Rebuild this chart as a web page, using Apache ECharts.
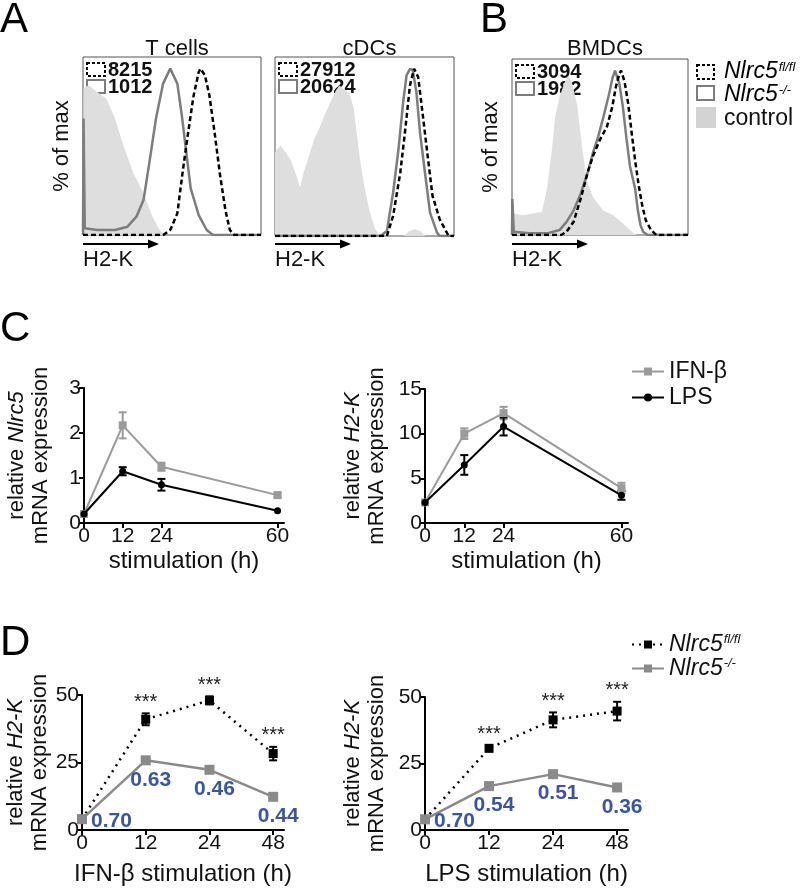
<!DOCTYPE html>
<html>
<head>
<meta charset="utf-8">
<style>html,body{margin:0;background:#fff}#chart{width:802px;height:888px}</style>
</head>
<body>
<div id="chart"></div>
<script src="https://cdn.jsdelivr.net/npm/echarts@6/dist/echarts.min.js"></script>
<script>
var FONT = 'Arial, "Liberation Sans", Helvetica, sans-serif';

// ---- A/B: flow histograms, [H2-K position in % of axis, % of max]
var tControl = [[0, 0], [0.3, 88], [3, 90], [8, 86], [13, 82], [18, 70], [22, 56], [28, 38], [34, 25], [39, 11], [43, 3], [46, 0], [100, 0]];
var tKo = [[0, 0], [0.3, 70], [1, 4], [8, 3], [18, 3], [25, 5], [30, 11], [34, 21], [37.5, 45], [41, 70], [45, 91], [49, 100], [53, 91], [55.5, 72], [58, 50], [60.5, 28], [65, 12], [69.5, 3], [73, 0], [100, 0]];
var tFl = [[0, 0], [45, 0], [49, 3], [53, 13], [56, 38], [59, 61], [62, 83], [65, 98], [66, 100], [68.5, 96], [71, 84], [74, 61], [77, 36], [80, 15], [82.5, 3], [85, 0], [100, 0]];

var cdcControl = [[0, 50], [3, 54], [6, 50], [9, 45], [12, 36], [14, 29], [16, 38], [19, 48], [22, 58], [25, 65], [28, 73], [31, 80], [34, 87], [36, 90], [38, 88], [40, 87], [42, 84], [44, 76], [46, 58], [48, 42], [50, 29], [53, 14], [56, 4], [58, 1], [60, 0], [72, 0], [75, 3], [78, 4], [81, 3], [84, 0], [100, 0]];
var cdcKo = [[0, 0], [59, 0], [62.5, 3], [66, 26], [69, 52], [71.7, 81], [73.5, 96], [75.5, 100], [77, 99], [79, 86], [81, 62], [84, 36], [86.6, 14], [90.5, 2], [92, 0], [100, 0]];
var cdcFl = [[0, 0], [62.5, 0], [66, 12], [70, 38], [72.6, 62], [75.4, 90], [77.7, 100], [80, 95], [82.7, 71], [85.5, 46], [88, 24], [92, 10], [96, 2], [97, 0], [100, 0]];

var bmControl = [[0, 0], [0.3, 23], [1, 13], [6, 12], [12, 13], [17, 14], [20, 29], [22.7, 52], [24.6, 72], [27, 84], [30, 93], [32, 97], [34, 93], [37, 79], [40, 52], [42.6, 33], [46, 23], [51.7, 15], [57.5, 12], [63, 7], [69, 1], [71, 0], [100, 0]];
var bmKo = [[0, 0], [0.2, 22], [1, 2], [10, 1], [20, 1], [27, 3], [31, 8], [35, 15], [39, 25], [43, 38], [46, 50], [49, 60], [52, 72], [55, 85], [57, 95], [58.5, 100], [61, 92], [63, 78], [65, 59], [67, 42], [70, 28], [71.5, 15], [73, 6], [74.5, 2], [77, 0], [100, 0]];
var bmFl = [[0, 0], [28, 0], [31, 2], [35, 8], [39, 22], [43, 38], [46, 48], [50, 58], [54, 66], [57, 78], [59, 90], [61, 98], [62, 100], [64, 93], [66, 80], [68, 62], [70, 45], [72, 30], [74, 18], [76, 9], [79, 3], [82, 0], [100, 0]];

var tMfi = ['8215', '1012'];
var cdcMfi = ['27912', '20624'];
var bmMfi = ['3094', '1982'];

// ---- C: time course, mean and error
var cHours = [0, 12, 24, 60];
var cNlrc5Ifn = [0.2, 2.17, 1.25, 0.62];
var cNlrc5IfnErr = [0, 0.29, 0.09, 0.04];
var cNlrc5Lps = [0.2, 1.15, 0.85, 0.27];
var cNlrc5LpsErr = [0, 0.09, 0.13, 0];
var cH2kIfn = [2.3, 10.0, 12.3, 3.9];
var cH2kIfnErr = [0, 0.6, 0.7, 0.6];
var cH2kLps = [2.3, 6.5, 10.8, 3.1];
var cH2kLpsErr = [0, 1.1, 1.0, 0.5];

// ---- D: H2-K in fl/fl vs -/-
var dHours = ['0', '12', '24', '48'];
var dIfnFl = [4, 41, 48, 28.3];
var dIfnFlErr = [0, 2.2, 1.5, 2.5];
var dIfnKo = [4, 25.8, 22.3, 12.3];
var dIfnKoErr = [0, 1, 1, 0.7];
var dLpsFl = [4, 30.7, 41.4, 44.7];
var dLpsFlErr = [0, 1, 2.8, 3.5];
var dLpsKo = [4, 16.5, 21, 16];
var dLpsKoErr = [0, 1, 1, 1];
var dIfnRatio = ['0.70', '0.63', '0.46', '0.44'];
var dLpsRatio = ['0.70', '0.54', '0.51', '0.36'];
var dSig = ['', '***', '***', '***'];

var GRAY_C = '#9b9b9b';
var GRAY_D = '#8a8a8a';
var BLUE = '#3a56a2';

var chart = echarts.init(document.getElementById('chart'));

var histBoxes = [
  { left: 83, top: 57, width: 178, height: 178, title: 'T cells', mfi: tMfi, yName: '% of max', d: [tControl, tKo, tFl] },
  { left: 275, top: 57, width: 179, height: 179, title: 'cDCs', mfi: cdcMfi, yName: '', d: [cdcControl, cdcKo, cdcFl] },
  { left: 512, top: 59, width: 176, height: 176, title: 'BMDCs', mfi: bmMfi, yName: '% of max', d: [bmControl, bmKo, bmFl] }
];

var grids = [], xAxes = [], yAxes = [], series = [], graphics = [], titles = [];

histBoxes.forEach(function (b, i) {
  grids.push({ left: b.left, top: b.top, width: b.width, height: b.height, show: true, borderColor: '#555', borderWidth: 1, backgroundColor: 'transparent' });
  xAxes.push({ gridIndex: i, type: 'value', min: 0, max: 100, show: false });
  yAxes.push({
    gridIndex: i, type: 'value', min: 0, max: 107,
    axisLine: { show: false }, axisTick: { show: false }, axisLabel: { show: false }, splitLine: { show: false },
    name: b.yName, nameLocation: 'middle', nameRotate: 90, nameGap: 10,
    nameTextStyle: { fontSize: 22, fontFamily: FONT, color: '#111' }
  });
  series.push({ type: 'line', name: 'control ' + i, xAxisIndex: i, yAxisIndex: i, data: b.d[0], symbol: 'none', lineStyle: { width: 0 }, areaStyle: { color: '#dedede', opacity: 1 }, z: 1 });
  series.push({ type: 'line', name: 'ko ' + i, xAxisIndex: i, yAxisIndex: i, data: b.d[1], symbol: 'none', lineStyle: { width: 2.5, color: '#7d7d7d' }, z: 2 });
  series.push({ type: 'line', name: 'fl ' + i, xAxisIndex: i, yAxisIndex: i, data: b.d[2], symbol: 'none', lineStyle: { width: 2.5, color: '#000', type: [5, 3] }, z: 3 });

  titles.push({ text: b.title, left: b.left + b.width / 2, top: 33, textAlign: 'center', textStyle: { fontSize: 22, fontWeight: 'normal', fontFamily: FONT, color: '#111' } });

  // MFI mini legend inside the box
  graphics.push({ type: 'rect', shape: { x: b.left + 4, y: b.top + 6, width: 18, height: 13 }, style: { fill: 'none', stroke: '#000', lineWidth: 2, lineDash: [3, 2] } });
  graphics.push({ type: 'rect', shape: { x: b.left + 4, y: b.top + 23, width: 18, height: 13 }, style: { fill: 'none', stroke: '#7d7d7d', lineWidth: 2 } });
  graphics.push({ type: 'text', x: b.left + 25, y: b.top + 13, style: { text: b.mfi[0], font: 'bold 20px ' + FONT, fill: '#111', textVerticalAlign: 'middle' } });
  graphics.push({ type: 'text', x: b.left + 25, y: b.top + 30, style: { text: b.mfi[1], font: 'bold 20px ' + FONT, fill: '#111', textVerticalAlign: 'middle' } });

  // H2-K arrow
  var ay = 244, ax0 = b.left, ax1 = b.left + 76;
  graphics.push({ type: 'line', shape: { x1: ax0, y1: ay, x2: ax1 - 6, y2: ay }, style: { stroke: '#000', lineWidth: 2 } });
  graphics.push({ type: 'polygon', shape: { points: [[ax1, ay], [ax1 - 11, ay - 4.5], [ax1 - 11, ay + 4.5]] }, style: { fill: '#000' } });
  graphics.push({ type: 'text', x: b.left, y: 260, style: { text: 'H2-K', font: '22px ' + FONT, fill: '#111', textVerticalAlign: 'middle' } });
});

// panel letters
[['A', 0, 20], ['B', 480, 20], ['C', 0, 329], ['D', 0, 643]].forEach(function (p) {
  graphics.push({ type: 'text', x: p[1], y: p[2], style: { text: p[0], font: '42px ' + FONT, fill: '#000', textVerticalAlign: 'middle' } });
});

// B legend
var richSup = {
  i: { fontSize: 23, fontStyle: 'italic', fontFamily: FONT, color: '#111' },
  s: { fontSize: 13, fontStyle: 'italic', fontFamily: FONT, color: '#111', verticalAlign: 'top', padding: [0, 0, 0, 1] },
  n: { fontSize: 23, fontFamily: FONT, color: '#111' }
};
graphics.push({ type: 'rect', shape: { x: 697, y: 65, width: 17, height: 14 }, style: { fill: 'none', stroke: '#000', lineWidth: 2, lineDash: [3, 2] } });
graphics.push({ type: 'rect', shape: { x: 697, y: 86, width: 17, height: 14 }, style: { fill: 'none', stroke: '#7d7d7d', lineWidth: 2 } });
graphics.push({ type: 'rect', shape: { x: 696, y: 107, width: 20, height: 21 }, style: { fill: '#d3d3d3' } });
graphics.push({ type: 'text', x: 724, y: 72, style: { text: '{i|Nlrc5}{s|fl/fl}', rich: richSup, textVerticalAlign: 'middle' } });
graphics.push({ type: 'text', x: 724, y: 95, style: { text: '{i|Nlrc5}{s|-/-}', rich: richSup, textVerticalAlign: 'middle' } });
graphics.push({ type: 'text', x: 724, y: 119, style: { text: 'control', font: '23px ' + FONT, fill: '#111', textVerticalAlign: 'middle' } });

// ---- C and D axes
function lineGrid(left, top, width, height) {
  grids.push({ left: left, top: top, width: width, height: height });
}
var axisLine = { show: true, lineStyle: { color: '#000', width: 2 } };
var axisTick = { show: true, length: 5, lineStyle: { color: '#000', width: 2 } };
var tickFont = { fontSize: 21, fontFamily: FONT, color: '#111' };

function yAx(gi, max, interval, gene, gap) {
  return {
    gridIndex: gi, type: 'value', min: 0, max: max, interval: interval,
    axisLine: axisLine, axisTick: axisTick, splitLine: { show: false },
    axisLabel: Object.assign({ margin: 3 }, tickFont),
    name: '{n|relative }{i|' + gene + '}\n{n|mRNA expression}',
    nameLocation: 'middle', nameRotate: 90, nameGap: gap,
    nameTextStyle: { lineHeight: 24, rich: { n: { fontSize: 22, fontFamily: FONT, color: '#111', lineHeight: 24 }, i: { fontSize: 22, fontFamily: FONT, color: '#111', fontStyle: 'italic', lineHeight: 24 } } }
  };
}

// C left (3), C right (4)
lineGrid(84, 388, 200, 135);
lineGrid(425, 389, 203, 134);
[3, 4].forEach(function (gi) {
  xAxes.push({
    gridIndex: gi, type: 'value', min: 0, max: 62,
    axisLine: axisLine, axisTick: Object.assign({ customValues: cHours }, axisTick), splitLine: { show: false },
    axisLabel: Object.assign({ customValues: cHours, margin: 3 }, tickFont),
    name: 'stimulation (h)', nameLocation: 'middle', nameGap: 26,
    nameTextStyle: { fontSize: 24, fontFamily: FONT, color: '#111' }
  });
});
yAxes.push(yAx(3, 3, 1, 'Nlrc5', 31));
yAxes.push(yAx(4, 15, 5, 'H2-K', 36));

// D left (5), D right (6): evenly spaced time points
lineGrid(82, 695, 202, 135);
lineGrid(425, 697, 203, 133);
var dPos = dHours.map(function (h, i) { return i; });
[['IFN-β stimulation (h)', 5], ['LPS stimulation (h)', 6]].forEach(function (a) {
  xAxes.push({
    gridIndex: a[1], type: 'value', min: 0, max: 3.17,
    axisLine: axisLine, axisTick: Object.assign({ customValues: dPos }, axisTick), splitLine: { show: false },
    axisLabel: Object.assign({ customValues: dPos, margin: 3, formatter: function (v) { return dHours[Math.round(v)]; } }, tickFont),
    name: a[0], nameLocation: 'middle', nameGap: 32,
    nameTextStyle: { fontSize: 24, fontFamily: FONT, color: '#111' }
  });
});
yAxes.push(yAx(5, 50, 25, 'H2-K', 30));
yAxes.push(yAx(6, 50, 25, 'H2-K', 36));

function pairs(xs, ys) { return xs.map(function (x, i) { return [x, ys[i]]; }); }

function errBars(xs, ys, es, color, gi, stars) {
  return {
    type: 'custom', name: 'err', xAxisIndex: gi, yAxisIndex: gi, z: 4, silent: true,
    data: xs.map(function (x, i) { return [x, ys[i], es[i]]; }),
    renderItem: function (params, api) {
      var x = api.value(0), y = api.value(1), e = api.value(2);
      var lo = api.coord([x, y - e]), hi = api.coord([x, y + e]);
      var kids = [];
      var ls = { stroke: color, lineWidth: 2 };
      if (e > 0) {
        kids.push({ type: 'line', shape: { x1: lo[0], y1: lo[1], x2: hi[0], y2: hi[1] }, style: ls });
        kids.push({ type: 'line', shape: { x1: lo[0] - 4, y1: lo[1], x2: lo[0] + 4, y2: lo[1] }, style: ls });
        kids.push({ type: 'line', shape: { x1: hi[0] - 4, y1: hi[1], x2: hi[0] + 4, y2: hi[1] }, style: ls });
      }
      if (stars && stars[params.dataIndex]) {
        kids.push({ type: 'text', x: hi[0], y: hi[1] - 1, style: { text: stars[params.dataIndex], font: '20px ' + FONT, fill: '#222', textAlign: 'center', textVerticalAlign: 'bottom' } });
      }
      return { type: 'group', children: kids };
    }
  };
}

function cSeries(gi, ifn, ifnErr, lps, lpsErr) {
  series.push(errBars(cHours, ifn, ifnErr, GRAY_C, gi));
  series.push(errBars(cHours, lps, lpsErr, '#000', gi));
  series.push({ type: 'line', name: 'IFN-β', xAxisIndex: gi, yAxisIndex: gi, data: pairs(cHours, ifn), symbol: 'rect', symbolSize: 8, itemStyle: { color: GRAY_C }, lineStyle: { color: GRAY_C, width: 2 }, z: 5 });
  series.push({ type: 'line', name: 'LPS', xAxisIndex: gi, yAxisIndex: gi, data: pairs(cHours, lps), symbol: 'circle', symbolSize: 7, itemStyle: { color: '#000' }, lineStyle: { color: '#000', width: 2 }, z: 6 });
}
cSeries(3, cNlrc5Ifn, cNlrc5IfnErr, cNlrc5Lps, cNlrc5LpsErr);
cSeries(4, cH2kIfn, cH2kIfnErr, cH2kLps, cH2kLpsErr);

function dSeries(gi, fl, flErr, ko, koErr, ratio) {
  series.push(errBars(dPos, fl, flErr, '#000', gi, dSig));
  series.push(errBars(dPos, ko, koErr, GRAY_D, gi));
  series.push({ type: 'line', name: 'Nlrc5fl/fl', xAxisIndex: gi, yAxisIndex: gi, data: pairs(dPos, fl), symbol: 'rect', symbolSize: 9, itemStyle: { color: '#000' }, lineStyle: { color: '#000', width: 2.5, type: [2, 5] }, z: 5 });
  series.push({
    type: 'line', name: 'Nlrc5-/-', xAxisIndex: gi, yAxisIndex: gi, symbol: 'rect', symbolSize: 10,
    itemStyle: { color: GRAY_D }, lineStyle: { color: GRAY_D, width: 2.5 }, z: 6,
    data: dPos.map(function (x, i) {
      return {
        value: [x, ko[i]],
        label: {
          show: true, formatter: ratio[i], position: i === 0 ? 'right' : 'bottom', distance: 3, offset: i === 0 ? [1, 2] : [5, 1],
          color: BLUE, fontSize: 21, fontWeight: 'bold', fontFamily: FONT
        }
      };
    })
  });
}
dSeries(5, dIfnFl, dIfnFlErr, dIfnKo, dIfnKoErr, dIfnRatio);
dSeries(6, dLpsFl, dLpsFlErr, dLpsKo, dLpsKoErr, dLpsRatio);

var legendText = { fontSize: 23, fontFamily: FONT, color: '#111', rich: richSup };

chart.setOption({
  animation: false,
  backgroundColor: '#fff',
  title: titles,
  grid: grids,
  xAxis: xAxes,
  yAxis: yAxes,
  series: series,
  legend: [
    { data: ['IFN-β', 'LPS'], orient: 'vertical', left: 626, top: 355, itemWidth: 32, itemHeight: 10, itemGap: 3, textStyle: legendText, selectedMode: false },
    {
      data: ['Nlrc5fl/fl', 'Nlrc5-/-'], orient: 'vertical', left: 626, top: 628, itemWidth: 32, itemHeight: 10, itemGap: 1, textStyle: legendText, selectedMode: false,
      formatter: function (n) { return n === 'Nlrc5fl/fl' ? '{i|Nlrc5}{s|fl/fl}' : '{i|Nlrc5}{s|-/-}'; }
    }
  ],
  graphic: graphics
});
</script>
</body>
</html>
